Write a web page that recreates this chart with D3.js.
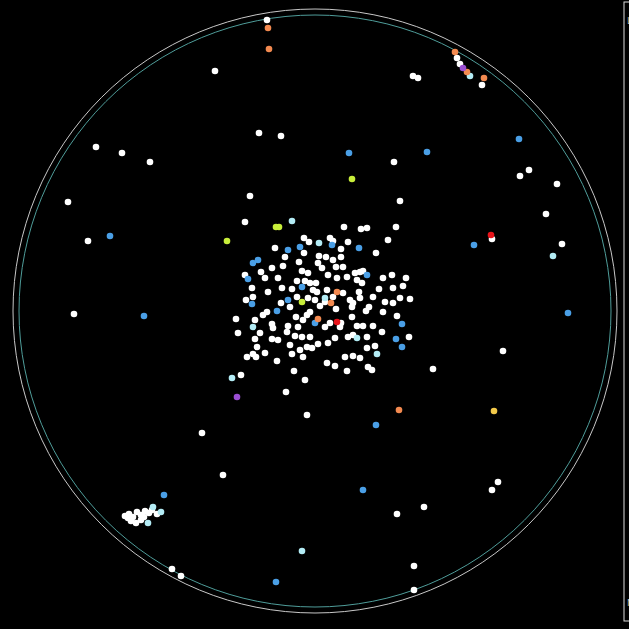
<!DOCTYPE html>
<html>
<head>
<meta charset="utf-8">
<script src="https://cdn.jsdelivr.net/npm/d3@7"></script>
<style>
  html, body { margin: 0; padding: 0; background: #000; overflow: hidden; }
  svg { display: block; }
</style>
</head>
<body>
<div class="scatter_container"></div>
<script>
// 各顏色的點 (layout coords, circle box 13..617)
const whitePts = [
  [267,20],[215,71],[413,76],[418,78],[457,58],[460,64],[482,85],
  [259,133],[281,136],[96,147],[122,153],[150,162],[394,162],[529,170],[520,176],
  [557,184],[68,202],[250,196],[400,201],[546,214],[88,241],[245,222],[492,239],
  [562,244],[74,314],[503,351],[433,369],[241,375],[286,392],[307,415],[202,433],
  [223,475],[498,482],[492,490],[424,507],[397,514],[414,566],[172,569],[181,576],[414,590],
  // 中央
  [344,227],[361,229],[367,228],[396,227],[388,240],[275,248],[304,238],[309,242],
  [304,253],[330,238],[333,241],[341,249],[376,253],[245,275],[261,272],[272,268],
  [283,266],[265,278],[278,278],[282,288],[292,289],[297,281],[302,271],[308,273],
  [319,256],[318,263],[322,268],[326,257],[333,260],[341,257],[336,267],[343,267],
  [328,275],[337,278],[347,277],[355,273],[357,280],[360,272],[363,271],[383,278],
  [393,288],[403,286],[406,278],[252,288],[253,297],[305,281],[310,283],[313,290],
  [297,297],[290,307],[308,298],[315,300],[317,292],[327,290],[325,302],[333,297],
  [343,293],[350,300],[353,303],[360,298],[359,292],[373,297],[369,307],[385,302],
  [393,303],[400,298],[410,299],[383,312],[366,311],[352,307],[267,312],[263,315],
  [255,320],[236,319],[238,333],[260,333],[272,324],[273,328],[288,326],[287,332],
  [298,327],[303,320],[307,315],[310,312],[325,327],[330,323],[340,327],[352,317],
  [357,326],[363,326],[373,326],[397,316],[409,337],[382,332],[367,337],[348,337],
  [353,335],[375,346],[367,348],[368,367],[372,370],[345,357],[353,356],[360,358],
  [335,338],[328,343],[318,344],[310,337],[302,337],[295,336],[290,345],[300,350],
  [307,347],[312,348],[303,357],[292,354],[278,340],[272,339],[265,353],[257,347],
  [253,354],[247,357],[256,357],[277,361],[327,363],[335,366],[347,371],[294,371],
  [305,380],[255,339],[341,323],[320,306],[296,317],[281,303],[246,300],[268,292],
  [392,275],[348,242],[285,257],[316,283],[336,309],[362,283],[379,289],[299,262],
  // 左下團
  [125,516],[129,514],[133,517],[137,512],[141,515],[145,511],[149,513],[131,521],
  [136,523],[141,520],[152,510],[157,514],[128,518],[144,517]
]
const bluePts = [
  [349,153],[427,152],[519,139],[110,236],[474,245],[144,316],[568,313],[376,425],
  [363,490],[164,495],[276,582],[288,250],[300,247],[332,245],[359,248],[253,263],
  [258,260],[248,279],[367,275],[252,304],[302,287],[288,300],[277,311],[315,323],
  [402,324],[396,339],[402,347]
]
const cyanPts = [
  [470,76],[292,221],[553,256],[232,378],[302,551],[319,243],[325,298],[253,327],
  [357,338],[377,354],[161,512],[153,507],[148,523]
]
const limePts = [[352,179],[227,241],[276,227],[279,227],[302,302]]
const orangePts = [[268,28],[269,49],[455,52],[467,72],[484,78],[399,410],[331,303],[318,319],[337,292]]
const redPts = [[491,235],[337,322]]
const purplePts = [[463,68],[237,397]]
const yellowPts = [[494,411]]

const groups = [
  { name: 'white', color: '#ffffff', values: whitePts },
  { name: 'blue', color: '#4a9fe6', values: bluePts },
  { name: 'cyan', color: '#b3ecf5', values: cyanPts },
  { name: 'lime', color: '#c8ee3a', values: limePts },
  { name: 'orange', color: '#f38a50', values: orangePts },
  { name: 'red', color: '#e8141a', values: redPts },
  { name: 'purple', color: '#9b4fd3', values: purplePts },
  { name: 'yellow', color: '#f3c94a', values: yellowPts }
]

const legendLabels = ['Legend', 'Nodes']

function setupCanvas() {
  const svg_width = 629
  const svg_height = 629
  const cx = 315, cy = 311, R = 302

  const svg = d3.select('.scatter_container').append('svg')
    .attr('width', svg_width).attr('height', svg_height)
    .style('background', '#000')

  // scale
  const xScale = d3.scaleLinear().domain([13, 617]).range([cx - R, cx + R])
  const yScale = d3.scaleLinear().domain([9, 613]).range([cy - R, cy + R])

  // 外圈
  svg.append('circle').attr('cx', cx).attr('cy', cy).attr('r', R)
    .style('fill', 'none').style('stroke', '#c8c8c8').style('stroke-width', 1)
  svg.append('circle').attr('cx', cx).attr('cy', cy).attr('r', R - 6)
    .style('fill', 'none').style('stroke', '#4f9d9a').style('stroke-width', 1)

  // Draw points
  svg.selectAll('.group').data(groups)
    .enter().append('g').attr('class', d => `group ${d.name}`)
    .style('fill', d => d.color)
    .selectAll('circle').data(d => d.values)
    .enter().append('circle')
    .attr('cx', d => xScale(d[0]))
    .attr('cy', d => yScale(d[1]))
    .attr('r', 3.3)

  // 右側面板 (被裁切)
  const panel = svg.append('g').attr('transform', 'translate(624,2)')
  panel.append('rect').attr('width', 40).attr('height', 619)
    .style('fill', '#000').style('stroke', '#ddd').style('stroke-width', 1)
  panel.selectAll('text').data(legendLabels)
    .enter().append('text')
    .attr('x', 3).attr('y', (d, i) => i === 0 ? 22 : 604)
    .text(d => d)
    .style('font-family', 'DejaVu Sans').style('font-size', '9px').style('fill', '#bbb')
}

setupCanvas()
</script>
</body>
</html>
